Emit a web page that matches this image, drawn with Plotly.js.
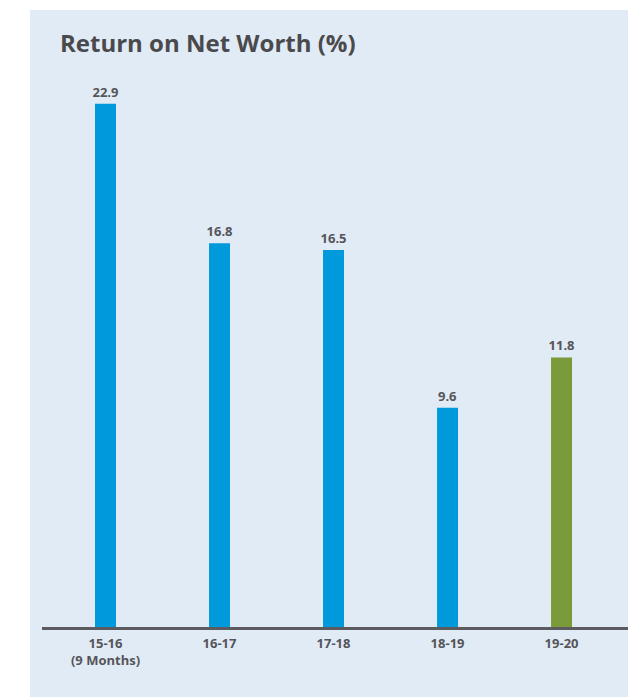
<!DOCTYPE html>
<html>
<head>
<meta charset="utf-8">
<script src="https://cdn.plot.ly/plotly-3.0.1.min.js"></script>
<style>
  html, body { margin:0; padding:0; background:#ffffff; width:628px; height:697px; overflow:hidden; }
  #chart { position:absolute; left:30px; top:10px; width:598px; height:687px; }
</style>
</head>
<body>
<div id="chart"></div>
<script>
const categories = ["15-16<br>(9 Months)", "16-17", "17-18", "18-19", "19-20"];
const values = [22.9, 16.8, 16.5, 9.6, 11.8];
const labels = ["22.9", "16.8", "16.5", "9.6", "11.8"];
const barColors = ["#0099dc", "#0099dc", "#0099dc", "#0099dc", "#7b9a39"];

const textColor = "#555559";
const trace = {
  type: "bar",
  x: [0, 1, 2, 3, 4],
  y: values,
  text: labels,
  textposition: "outside",
  constraintext: "none",
  cliponaxis: false,
  textfont: { family: "Open Sans", size: 13, color: textColor, weight: 700 },
  marker: { color: barColors },
  width: 0.184,
  hoverinfo: "none"
};

const layout = {
  width: 598,
  height: 687,
  margin: { l: 12, r: 0, t: 50, b: 70 },
  paper_bgcolor: "#e1ebf6",
  plot_bgcolor: "rgba(0,0,0,0)",
  showlegend: false,
  title: {
    text: "Return on Net Worth (%)",
    font: { family: "Open Sans", size: 24, color: "#4a4a4d", weight: 700 },
    xref: "paper", x: 18/586, xanchor: "left",
    yref: "container", y: 1 - 34/687, yanchor: "middle"
  },
  xaxis: {
    range: [-0.557, 4.583],
    tickmode: "array",
    tickvals: [0, 1, 2, 3, 4],
    ticktext: categories,
    ticks: "",
    ticklabelstandoff: 2,
    showgrid: false,
    zeroline: false,
    showline: true,
    linecolor: "#5c5c60",
    linewidth: 3,
    tickfont: { family: "Open Sans", size: 13, color: textColor, weight: 700 },
    fixedrange: true
  },
  yaxis: {
    range: [0, 24.82],
    visible: false,
    showgrid: false,
    zeroline: false,
    fixedrange: true
  }
};

Plotly.newPlot("chart", [trace], layout, { displayModeBar: false, staticPlot: true });
</script>
</body>
</html>
